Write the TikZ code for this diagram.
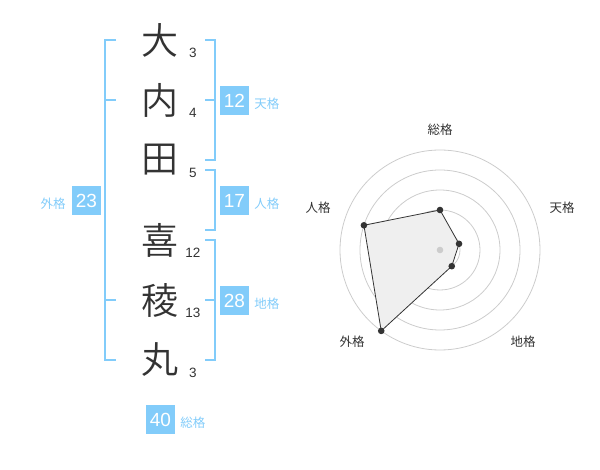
\documentclass[tikz,border=0pt]{standalone}
\usepackage{fontspec}
\setmainfont{Liberation Sans}
\newfontfamily\jpfont{Noto Sans CJK JP DemiLight}
\newfontfamily\jplabel{Noto Sans CJK JP}
\definecolor{kakublue}{HTML}{82CCFA}
\definecolor{inkgrey}{HTML}{333333}
\definecolor{ringgrey}{HTML}{CCCCCC}
\definecolor{polyfill}{HTML}{EFEFEF}
\tikzset{
  kanji/.style={font=\jpfont\fontsize{37}{37}\selectfont, text=inkgrey, inner sep=0pt},
  strokes/.style={font=\fontsize{13.5}{13.5}\selectfont, text=inkgrey, inner sep=0pt},
  kakubox/.style={fill=kakublue, text=white, minimum size=29pt, inner sep=0pt, font=\fontsize{19}{19}\selectfont},
  kakulabel/.style={text=kakublue, inner sep=0pt, font=\jplabel\fontsize{12.5}{12.5}\selectfont},
  bracket/.style={draw=kakublue, line width=2pt},
  axislabel/.style={text=inkgrey, inner sep=0pt, font=\jplabel\fontsize{12.5}{12.5}\selectfont},
}
\begin{document}
\begin{tikzpicture}[x=1pt,y=-1pt]
\useasboundingbox (0,0) rectangle (600,470);

% name with stroke counts
\foreach \ch/\y/\n [count=\i] in {大/40/3,内/100/4,田/160/5,喜/240/12,稜/300/13,丸/360/3} {
        \node[kanji] (n\i) at (160,\y) {\ch};
        \node[strokes] (s\i) at (193,\y+12.7) {\n};
 }

% brackets
\draw[bracket] (116,40) -- (105,40) -- (105,360) -- (116,360);
\draw[bracket] (105,100) -- (116,100);
\draw[bracket] (105,300) -- (116,300);
\draw[bracket] (205,40) -- (215,40) -- (215,160) -- (205,160);
\draw[bracket] (215,100) -- (205,100);
\draw[bracket] (205,170) -- (215,170) -- (215,230) -- (205,230);
\draw[bracket] (205,240) -- (215,240) -- (215,360) -- (205,360);
\draw[bracket] (215,300) -- (205,300);

% kaku boxes
\node[kakubox] (ten) at (234.5,100.5) {12};
\node[kakulabel, anchor=west] (tenl) at ([shift={(5pt,-3pt)}]ten.east) {天格};
\node[kakubox] (jin) at (234.5,200.5) {17};
\node[kakulabel, anchor=west] (jinl) at ([shift={(5pt,-3pt)}]jin.east) {人格};
\node[kakubox] (chi) at (234.5,300.5) {28};
\node[kakulabel, anchor=west] (chil) at ([shift={(5pt,-3pt)}]chi.east) {地格};
\node[kakubox] (gai) at (86.5,200.5) {23};
\node[kakulabel, anchor=east] (gail) at ([shift={(-6pt,-3pt)}]gai.west) {外格};
\node[kakubox] (sou) at (160.5,419.5) {40};
\node[kakulabel, anchor=west] (soul) at ([shift={(5pt,-3pt)}]sou.east) {総格};

% radar
\coordinate (c) at (440,250);
\foreach \r in {1,...,5}
        \draw[ringgrey, line width=0.8pt] (c) circle[radius=\r*20pt];

\foreach \a/\r/\lab/\lx/\ly [count=\i] in {90/40/総格/440/130,18/20/天格/562/208,-54/20/地格/523/342,-126/100/外格/352/342,162/80/人格/318/208} {
        \coordinate (p\i) at ([shift={(\a:\r pt)}]c);
        \node[axislabel] (l\i) at (\lx,\ly) {\lab};
 }

\filldraw[fill=polyfill, draw=inkgrey, line width=0.8pt] (p1) -- (p2) -- (p3) -- (p4) -- (p5) -- cycle;
\fill[ringgrey] (c) circle (3.3pt);
\foreach \i in {1,...,5}
        \fill[inkgrey] (p\i) circle (3.3pt);

\end{tikzpicture}
\end{document}
